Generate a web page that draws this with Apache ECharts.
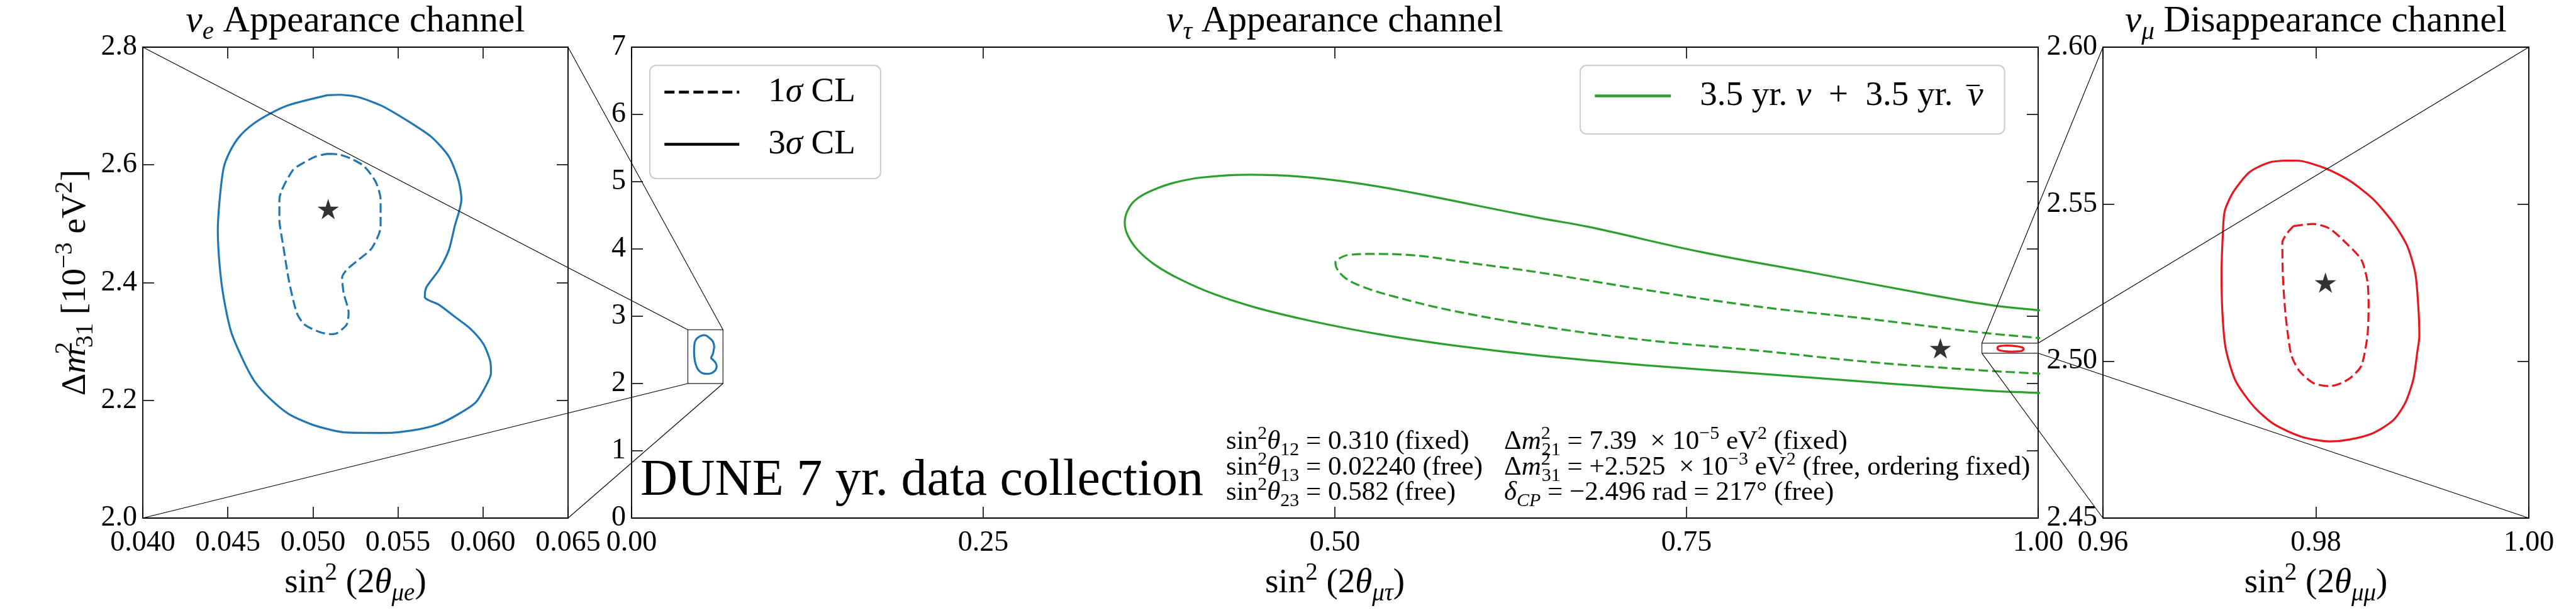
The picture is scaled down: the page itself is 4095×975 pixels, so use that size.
<!DOCTYPE html>
<html>
<head>
<meta charset="utf-8">
<script src="https://cdn.jsdelivr.net/npm/echarts@6.0.0/dist/echarts.min.js"></script>
<style>
html,body{margin:0;padding:0;background:#ffffff;}
#chart{width:4095px;height:975px;}
</style>
</head>
<body>
<div id="chart"></div>
<script>
const FONT = '"Liberation Serif", "DejaVu Serif", serif';

// ---- panel axis ranges and tick steps ----
const nueRangeX = [0.040, 0.065];
const nueRangeY = [2.0, 2.8];
const nueStep = [0.005, 0.2];
const nutRangeX = [0.0, 1.0];
const nutRangeY = [0, 7];
const nutStep = [0.25, 1];
const numRangeX = [0.96, 1.00];
const numRangeY = [2.45, 2.60];
const numStep = [0.02, 0.05];
const tickDecimalsX = [3, 2, 2];
const tickDecimalsY = [1, 0, 2];

// ---- nu_e appearance contours (sin^2 2theta_mue, dm31^2) ----
const nue3X = [0.05086,0.04860,0.04747,0.04645,0.04566,0.04509,0.04475,0.04452,0.04441,0.04452,0.04475,0.04520,0.04588,0.04656,0.04747,0.04860,0.05018,0.05199,0.05425,0.05606,0.05742,0.05855,0.05957,0.06014,0.06047,0.06043,0.06002,0.05923,0.05833,0.05742,0.05658,0.05667,0.05742,0.05799,0.05833,0.05873,0.05855,0.05799,0.05697,0.05561,0.05403,0.05267,0.05154,0.05086];
const nue3Y = [2.7184,2.7018,2.687,2.6687,2.6474,2.6209,2.5944,2.5413,2.4882,2.4285,2.3755,2.3158,2.2693,2.2328,2.2030,2.1765,2.1566,2.1453,2.1446,2.1499,2.1599,2.1765,2.1964,2.2229,2.2461,2.2660,2.2959,2.3224,2.3423,2.3622,2.3755,2.3920,2.4219,2.4551,2.4949,2.5413,2.5745,2.6143,2.6474,2.6740,2.7005,2.7151,2.7191,2.7184];
const nue1X = [0.05086,0.05154,0.05222,0.05301,0.05369,0.05398,0.05398,0.05346,0.05267,0.05199,0.05172,0.05181,0.05210,0.05199,0.05143,0.05109,0.05041,0.04950,0.04905,0.04860,0.04826,0.04803,0.04803,0.04882,0.04950,0.05018,0.05086];
const nue1Y = [2.6189,2.6176,2.6109,2.5977,2.5711,2.5413,2.4949,2.4584,2.4385,2.4219,2.4086,2.3821,2.3489,2.3290,2.3144,2.3124,2.3158,2.3290,2.3489,2.4020,2.4617,2.5081,2.5413,2.5910,2.6043,2.6143,2.6189];

// ---- nu_tau appearance contours (sin^2 2theta_mutau, dm31^2) ----
const nut3X = [1.005,1.0,0.968,0.92,0.84,0.76,0.68,0.647,0.60,0.553,0.5135,0.4735,0.4396,0.4056,0.3856,0.3707,0.3597,0.3537,0.3506,0.3527,0.3597,0.3717,0.3897,0.4136,0.4436,0.4835,0.5334,0.5833,0.6468,0.7203,0.8002,0.880,0.960,1.0,1.005];
const nut3Y = [3.08,3.09,3.16,3.33,3.645,3.957,4.33,4.455,4.65,4.845,4.985,5.079,5.104,5.063,4.985,4.876,4.752,4.611,4.393,4.206,3.988,3.770,3.552,3.333,3.130,2.928,2.725,2.569,2.413,2.273,2.148,2.023,1.899,1.861,1.857];
const nut1X = [1.005,1.0,0.96,0.88,0.80,0.72,0.647,0.5934,0.5534,0.5254,0.5095,0.5035,0.5004,0.5015,0.5075,0.5194,0.5434,0.5833,0.6468,0.7203,0.80,0.88,0.96,1.0,1.005];
const nut1Y = [2.668,2.678,2.757,2.959,3.146,3.395,3.645,3.80,3.91,3.926,3.91,3.863,3.80,3.707,3.567,3.442,3.286,3.084,2.850,2.647,2.491,2.320,2.195,2.148,2.139];

// ---- nu_mu disappearance contours (sin^2 2theta_mumu, dm31^2) ----
const num3X = [0.97734,0.97846,0.98090,0.98315,0.98540,0.98728,0.98859,0.98934,0.98961,0.98972,0.98953,0.98916,0.98841,0.98728,0.98540,0.98315,0.98128,0.97865,0.97602,0.97415,0.97246,0.97152,0.97122,0.97114,0.97126,0.97144,0.97227,0.97377,0.97565,0.97734];
const num3Y = [2.5639,2.5638,2.5614,2.5575,2.5515,2.5440,2.5366,2.5279,2.5179,2.5080,2.5030,2.4943,2.4868,2.4812,2.4771,2.4750,2.4744,2.4759,2.4800,2.4856,2.4937,2.5042,2.5154,2.5279,2.5403,2.5478,2.5540,2.5602,2.5633,2.5639];
const num1X = [0.97790,0.97977,0.98128,0.98296,0.98428,0.98484,0.98495,0.98484,0.98428,0.98334,0.98240,0.98128,0.97977,0.97846,0.97771,0.97734,0.97707,0.97689,0.97685,0.97734,0.97790];
const num1Y = [2.5430,2.5437,2.5422,2.5372,2.5322,2.5254,2.5179,2.5080,2.4986,2.4949,2.4930,2.4920,2.4930,2.4968,2.5017,2.5092,2.5179,2.5279,2.5378,2.5409,2.5430];

// ---- best-fit (true) points ----
const starNue = [0.0509, 2.525];
const starNut = [0.9305, 2.523];
const starNum = [0.9809, 2.525];

// ---- texts ----
const greenName = '3.5 yr. ν + 3.5 yr. ν̄';
const sigmaNames = ['1σ CL', '3σ CL'];
const titles = ['{i|ν}{sbi|e}{n| Appearance channel}', '{i|ν}{sbi|τ}{n| Appearance channel}', '{i|ν}{sbi|μ}{n| Disappearance channel}'];
const xNames = ['{n|sin}{sp|2}{n| (2}{i|θ}{sbi|μe}{n|)}', '{n|sin}{sp|2}{n| (2}{i|θ}{sbi|μτ}{n|)}', '{n|sin}{sp|2}{n| (2}{i|θ}{sbi|μμ}{n|)}'];
const yName = '{n|Δ}{i|m}{spz|2}{sb|31}{n| [10}{sp|−3}{n| eV}{sp|2}{n|]}';
const paramCol1 = ['{n|sin}{sp|2}{i|θ}{sb|12}{n| = 0.310 (fixed)}', '{n|sin}{sp|2}{i|θ}{sb|13}{n| = 0.02240 (free)}', '{n|sin}{sp|2}{i|θ}{sb|23}{n| = 0.582 (free)}'];
const paramCol2 = ['{n|Δ}{i|m}{spz|2}{sb|21}{n| = 7.39  × 10}{sp|−5}{n| eV}{sp|2}{n| (fixed)}', '{n|Δ}{i|m}{spz|2}{sb|31}{n| = +2.525  × 10}{sp|−3}{n| eV}{sp|2}{n| (free, ordering fixed)}', '{i|δ}{sbi|CP}{n| = −2.496 rad = 217° (free)}'];
const duneText = 'DUNE 7 yr. data collection';

// ---- layout / style ----
const G = [
  {left: 227, top: 75, width: 676, height: 749},
  {left: 1004, top: 75, width: 2236, height: 749},
  {left: 3343, top: 75, width: 677, height: 749}
];
const BLUE = '#1f77b4', GREEN = '#2ca02c', RED = '#e8161d';
const DASH = [15, 6.5];
const STAR = 'path://M50 0L61.23 34.55L97.55 34.55L68.17 55.9L79.39 90.45L50 69.1L20.61 90.45L31.83 55.9L2.45 34.55L38.77 34.55Z';

function R(F) {
  const base = {fontFamily: FONT, color: '#000', fontSize: F, verticalAlign: 'middle'};
  const s = Math.round(0.7 * F), p = Math.round(0.6 * F);
  return {
    n: Object.assign({}, base),
    i: Object.assign({}, base, {fontStyle: 'italic'}),
    sp: Object.assign({}, base, {fontSize: s, padding: [0, 0, p, 0]}),
    spz: Object.assign({}, base, {fontSize: s, padding: [0, 0, p, 0], width: 1}),
    sb: Object.assign({}, base, {fontSize: s, padding: [p, 0, 0, 0]}),
    sbi: Object.assign({}, base, {fontSize: s, fontStyle: 'italic', padding: [p, 0, 0, 0]}),
    ov: Object.assign({}, base, {width: 1, padding: [Math.round(0.4 * F), 0, 0, Math.round(0.16 * F)]}),
    g: Object.assign({}, base, {width: 41})
  };
}

const pts = (xs, ys) => xs.map((x, k) => [x, ys[k]]);
const boxPts = (rx, ry) => [[rx[0], ry[0]], [rx[1], ry[0]], [rx[1], ry[1]], [rx[0], ry[1]], [rx[0], ry[0]]];

const ranges = [[nueRangeX, nueRangeY, nueStep], [nutRangeX, nutRangeY, nutStep], [numRangeX, numRangeY, numStep]];
const AXLINE = {show: true, onZero: false, lineStyle: {color: '#000', width: 1.8}};
const TICK = {show: true, inside: true, length: 18, lineStyle: {color: '#000', width: 1.6}};

const xAxis = [], yAxis = [];
['bottom', 'top'].forEach(pos => {
  ranges.forEach((r, g) => {
    const ax = {
      type: 'value', gridIndex: g, position: pos, min: r[0][0], max: r[0][1], interval: r[2][0],
      axisLine: AXLINE, axisTick: TICK, splitLine: {show: false},
      axisLabel: {show: pos === 'bottom', fontFamily: FONT, fontSize: 46, color: '#000', margin: 17,
        formatter: v => v.toFixed(tickDecimalsX[g])}
    };
    if (pos === 'bottom') {
      ax.name = xNames[g];
      ax.nameLocation = 'middle';
      ax.nameGap = 60;
      ax.nameTextStyle = {fontFamily: FONT, fontSize: 55, color: '#000', rich: R(55)};
    }
    xAxis.push(ax);
  });
});
['left', 'right'].forEach(pos => {
  ranges.forEach((r, g) => {
    const ax = {
      type: 'value', gridIndex: g, position: pos, min: r[1][0], max: r[1][1], interval: r[2][1],
      axisLine: AXLINE, axisTick: TICK, splitLine: {show: false},
      axisLabel: {show: pos === 'left', fontFamily: FONT, fontSize: 46, color: '#000', margin: 9,
        formatter: v => v.toFixed(tickDecimalsY[g])}
    };
    if (pos === 'left' && g === 0) {
      ax.name = yName;
      ax.nameLocation = 'middle';
      ax.nameGap = 18;
      ax.nameTextStyle = {fontFamily: FONT, fontSize: 55, color: '#000', rich: R(55)};
    }
    yAxis.push(ax);
  });
});

function contour(name, xs, ys, color, dashed, g, sm) {
  return {
    type: 'line', name: name, xAxisIndex: g, yAxisIndex: g, data: pts(xs, ys),
    symbol: 'none', showSymbol: false, smooth: sm || 0.25, clip: true, silent: true,
    lineStyle: {color: color, width: 3.2, type: dashed ? DASH : 'solid'},
    itemStyle: {color: color}, z: 3
  };
}
function star(name, p, g) {
  return {type: 'scatter', name: name, xAxisIndex: g, yAxisIndex: g, data: [p], symbol: STAR,
    symbolSize: 34, symbolKeepAspect: true, itemStyle: {color: '#000'}, silent: true, z: 5};
}
function box(name, rx, ry) {
  return {type: 'line', name: name, xAxisIndex: 1, yAxisIndex: 1, data: boxPts(rx, ry), symbol: 'none',
    clip: false, silent: true, lineStyle: {color: '#444', width: 1.5}, z: 4};
}

const series = [
  contour(greenName, nut3X, nut3Y, GREEN, false, 1, 0.4),
  contour('nut1', nut1X, nut1Y, GREEN, true, 1, 0.4),
  contour('nue3', nue3X, nue3Y, BLUE, false, 0),
  contour('nue1', nue1X, nue1Y, BLUE, true, 0),
  contour('nue3m', nue3X, nue3Y, BLUE, false, 1),
  contour('num3', num3X, num3Y, RED, false, 2),
  contour('num1', num1X, num1Y, RED, true, 2),
  contour('num3m', num3X, num3Y, RED, false, 1),
  star('starNue', starNue, 0),
  star('starNut', starNut, 1),
  star('starNum', starNum, 2),
  box('boxNue', nueRangeX, nueRangeY),
  box('boxNum', numRangeX, numRangeY),
  {type: 'line', name: sigmaNames[0], xAxisIndex: 1, yAxisIndex: 1, data: [], symbol: 'none',
    lineStyle: {color: '#000', type: [16, 7], width: 4}, itemStyle: {color: '#000'}},
  {type: 'line', name: sigmaNames[1], xAxisIndex: 1, yAxisIndex: 1, data: [], symbol: 'none',
    lineStyle: {color: '#000', type: 'solid', width: 4}, itemStyle: {color: '#000'}}
];

const legendRich = R(55);
const legend = [
  {
    data: sigmaNames, orient: 'vertical', left: 1033, top: 104, padding: [15, 40, 27, 21],
    itemWidth: 119, itemHeight: 4, itemGap: 28, selectedMode: false,
    borderColor: '#cccccc', borderWidth: 2, borderRadius: 10, backgroundColor: 'rgba(255,255,255,0.85)',
    itemStyle: {opacity: 0}, lineStyle: {width: 4.5},
    textStyle: {fontFamily: FONT, fontSize: 55, color: '#000', rich: legendRich},
    formatter: name => name === sigmaNames[0] ? '{g| }{n|1}{i|σ}{n| CL}' : '{g| }{n|3}{i|σ}{n| CL}'
  },
  {
    data: [greenName], orient: 'vertical', left: 2512, top: 104, padding: [21, 34, 22, 21],
    itemWidth: 121, itemHeight: 4, selectedMode: false,
    borderColor: '#cccccc', borderWidth: 2, borderRadius: 10, backgroundColor: 'rgba(255,255,255,0.85)',
    itemStyle: {opacity: 0}, lineStyle: {width: 4.5},
    textStyle: {fontFamily: FONT, fontSize: 55, color: '#000', rich: legendRich},
    formatter: () => '{g| }{n|3.5 yr. }{i|ν}{n|  +  3.5 yr. }{ov|‾}{i|ν}'
  }
];

function txt(text, x, y, F, align) {
  return {type: 'text', x: x, y: y, silent: true, z: 60,
    style: {text: text, rich: R(F), fontFamily: FONT, fontSize: F, fill: '#000',
      align: align || 'left', verticalAlign: 'middle'}};
}
const textEls = [];
titles.forEach((t, k) => textEls.push(txt(t, G[k].left + G[k].width / 2, 34, 59, 'center')));
textEls.push(txt(duneText, 1018, 765, 82, 'left'));
const rowY = [703, 744, 784];
paramCol1.forEach((t, k) => textEls.push(txt(t, 1949, rowY[k], 43, 'left')));
paramCol2.forEach((t, k) => textEls.push(txt(t, 2391, rowY[k], 43, 'left')));

const chart = echarts.init(document.getElementById('chart'), null, {renderer: 'canvas'});
const option = {
  backgroundColor: '#ffffff',
  animation: false,
  grid: G,
  xAxis: xAxis,
  yAxis: yAxis,
  legend: legend,
  series: series,
  graphic: textEls
};
chart.setOption(option);

// zoom connector lines between side panels and their inset boxes in the middle panel
const conn = [];
[[0, nueRangeX, nueRangeY], [2, numRangeX, numRangeY]].forEach(([g, rx, ry]) => {
  [[rx[0], ry[0]], [rx[1], ry[0]], [rx[0], ry[1]], [rx[1], ry[1]]].forEach(c => {
    const a = chart.convertToPixel({xAxisIndex: g, yAxisIndex: g}, c);
    const b = chart.convertToPixel({xAxisIndex: 1, yAxisIndex: 1}, c);
    conn.push({type: 'line', silent: true, z: 100,
      shape: {x1: a[0], y1: a[1], x2: b[0], y2: b[1]},
      style: {stroke: '#000', lineWidth: 1.1}});
  });
});
chart.setOption({graphic: textEls.concat(conn)});
</script>
</body>
</html>
